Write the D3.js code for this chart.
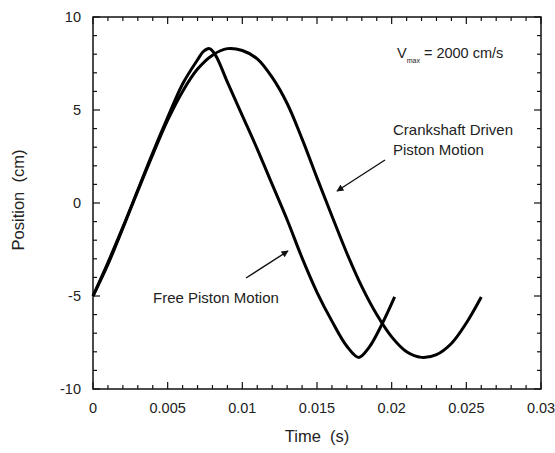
<!DOCTYPE html>
<html>
<head>
<meta charset="utf-8">
<script src="https://cdn.jsdelivr.net/npm/d3@7"></script>
<style>
  body { margin: 0; background: #fff; }
  text { font-family: "Liberation Sans", Arial, sans-serif; fill: #222; }
</style>
</head>
<body>
<div id="chart"></div>
<script>
// data (time in s, position in cm)
const freeTime = [0, 0.001, 0.002, 0.003, 0.004, 0.005, 0.006, 0.007, 0.0074, 0.0078, 0.0082, 0.009, 0.01, 0.011, 0.012, 0.013, 0.014, 0.015, 0.016, 0.017, 0.0178, 0.0185, 0.0193, 0.0202];
const freePos = [-5.0, -3.2, -1.3, 0.7, 2.7, 4.6, 6.4, 7.7, 8.15, 8.3, 7.95, 6.5, 4.7, 2.9, 1.0, -0.9, -2.95, -4.8, -6.35, -7.7, -8.3, -7.75, -6.6, -5.05];

const crankTime = [0, 0.001, 0.002, 0.003, 0.004, 0.005, 0.006, 0.007, 0.008, 0.009, 0.01, 0.011, 0.012, 0.013, 0.014, 0.015, 0.016, 0.017, 0.018, 0.019, 0.02, 0.021, 0.022, 0.023, 0.024, 0.025, 0.026];
const crankPos = [-5.0, -3.3, -1.35, 0.65, 2.6, 4.45, 6.0, 7.2, 7.95, 8.3, 8.2, 7.75, 6.75, 5.35, 3.45, 1.35, -0.7, -2.7, -4.5, -6.0, -7.2, -8.0, -8.3, -8.15, -7.55, -6.45, -5.05];

const xTicks = [0, 0.005, 0.01, 0.015, 0.02, 0.025, 0.03];
const yTicks = [-10, -5, 0, 5, 10];

const width = 555,
  height = 453;
const margin = { top: 17, right: 14, bottom: 64, left: 93 };

const svg = d3
  .select("#chart")
  .append("svg")
  .attr("width", width)
  .attr("height", height);

const x = d3.scaleLinear().domain([0, 0.03]).range([margin.left, width - margin.right]);
const y = d3.scaleLinear().domain([-10, 10]).range([height - margin.bottom, margin.top]);

// minor + major ticks on all four sides, pointing inwards
const xMinor = x.ticks(30);
const yMinor = y.ticks(20);
const isMajorX = (d) => xTicks.some((t) => Math.abs(t - d) < 1e-9);
const isMajorY = (d) => yTicks.includes(d);

const tickG = svg.append("g").attr("stroke", "#111").attr("stroke-width", 1.2);
[[y.range()[0], -1], [y.range()[1], 1]].forEach(([yy, dir]) => {
  tickG
    .selectAll(null)
    .data(xMinor)
    .join("line")
    .attr("x1", (d) => x(d))
    .attr("x2", (d) => x(d))
    .attr("y1", yy)
    .attr("y2", (d) => yy + dir * (isMajorX(d) ? 7 : 4));
});
[[x.range()[0], 1], [x.range()[1], -1]].forEach(([xx, dir]) => {
  tickG
    .selectAll(null)
    .data(yMinor)
    .join("line")
    .attr("y1", (d) => y(d))
    .attr("y2", (d) => y(d))
    .attr("x1", xx)
    .attr("x2", (d) => xx + dir * (isMajorY(d) ? 7 : 4));
});

svg
  .append("rect")
  .attr("x", x.range()[0])
  .attr("y", y.range()[1])
  .attr("width", x.range()[1] - x.range()[0])
  .attr("height", y.range()[0] - y.range()[1])
  .attr("fill", "none")
  .attr("stroke", "#111")
  .attr("stroke-width", 1.5);

// tick labels
svg
  .selectAll(".xlab")
  .data(xTicks)
  .join("text")
  .attr("class", "xlab")
  .attr("x", (d) => x(d))
  .attr("y", y.range()[0] + 24)
  .attr("text-anchor", "middle")
  .attr("font-size", 14.5)
  .text((d) => String(d));

svg
  .selectAll(".ylab")
  .data(yTicks)
  .join("text")
  .attr("class", "ylab")
  .attr("x", x.range()[0] - 12)
  .attr("y", (d) => y(d) + 5)
  .attr("text-anchor", "end")
  .attr("font-size", 14.5)
  .text((d) => String(d));

// axis titles
svg
  .append("text")
  .attr("x", (x.range()[0] + x.range()[1]) / 2)
  .attr("y", 442)
  .attr("text-anchor", "middle")
  .attr("font-size", 16.5)
  .style("white-space", "pre")
  .text("Time  (s)");

svg
  .append("text")
  .attr("transform", `translate(24, ${y(0) - 3}) rotate(-90)`)
  .attr("text-anchor", "middle")
  .attr("font-size", 16.5)
  .style("white-space", "pre")
  .text("Position  (cm)");

// curves
const line = d3
  .line()
  .x((d) => x(d[0]))
  .y((d) => y(d[1]))
  .curve(d3.curveCatmullRom.alpha(0.5));

const series = [
  d3.zip(crankTime, crankPos),
  d3.zip(freeTime, freePos),
];

svg
  .selectAll(".curve")
  .data(series)
  .join("path")
  .attr("class", "curve")
  .attr("d", line)
  .attr("fill", "none")
  .attr("stroke", "#000")
  .attr("stroke-width", 3)
  .attr("stroke-linejoin", "round");

// annotations
svg
  .append("defs")
  .append("marker")
  .attr("id", "head")
  .attr("viewBox", "0 0 10 10")
  .attr("refX", 9)
  .attr("refY", 5)
  .attr("markerWidth", 9)
  .attr("markerHeight", 7)
  .attr("markerUnits", "userSpaceOnUse")
  .attr("orient", "auto")
  .append("path")
  .attr("d", "M0,0L10,5L0,10Z")
  .attr("fill", "#111");

const arrows = [
  [385, 160, 337, 191],
  [246, 278, 288, 251],
];
svg
  .selectAll(".arrow")
  .data(arrows)
  .join("line")
  .attr("class", "arrow")
  .attr("x1", (d) => d[0])
  .attr("y1", (d) => d[1])
  .attr("x2", (d) => d[2])
  .attr("y2", (d) => d[3])
  .attr("stroke", "#111")
  .attr("stroke-width", 1.4)
  .attr("marker-end", "url(#head)");

const vmax = svg.append("text").attr("x", 397).attr("y", 58).attr("font-size", 14.5);
vmax.append("tspan").text("V");
vmax.append("tspan").attr("font-size", 7).attr("dy", 5).text("max");
vmax.append("tspan").attr("dy", -5).text(" = 2000 cm/s");

svg
  .append("text")
  .attr("x", 393)
  .attr("y", 135)
  .attr("font-size", 15)
  .text("Crankshaft Driven");
svg
  .append("text")
  .attr("x", 393)
  .attr("y", 155)
  .attr("font-size", 15)
  .text("Piston Motion");

svg
  .append("text")
  .attr("x", 153)
  .attr("y", 303)
  .attr("font-size", 15)
  .text("Free Piston Motion");
</script>
</body>
</html>
